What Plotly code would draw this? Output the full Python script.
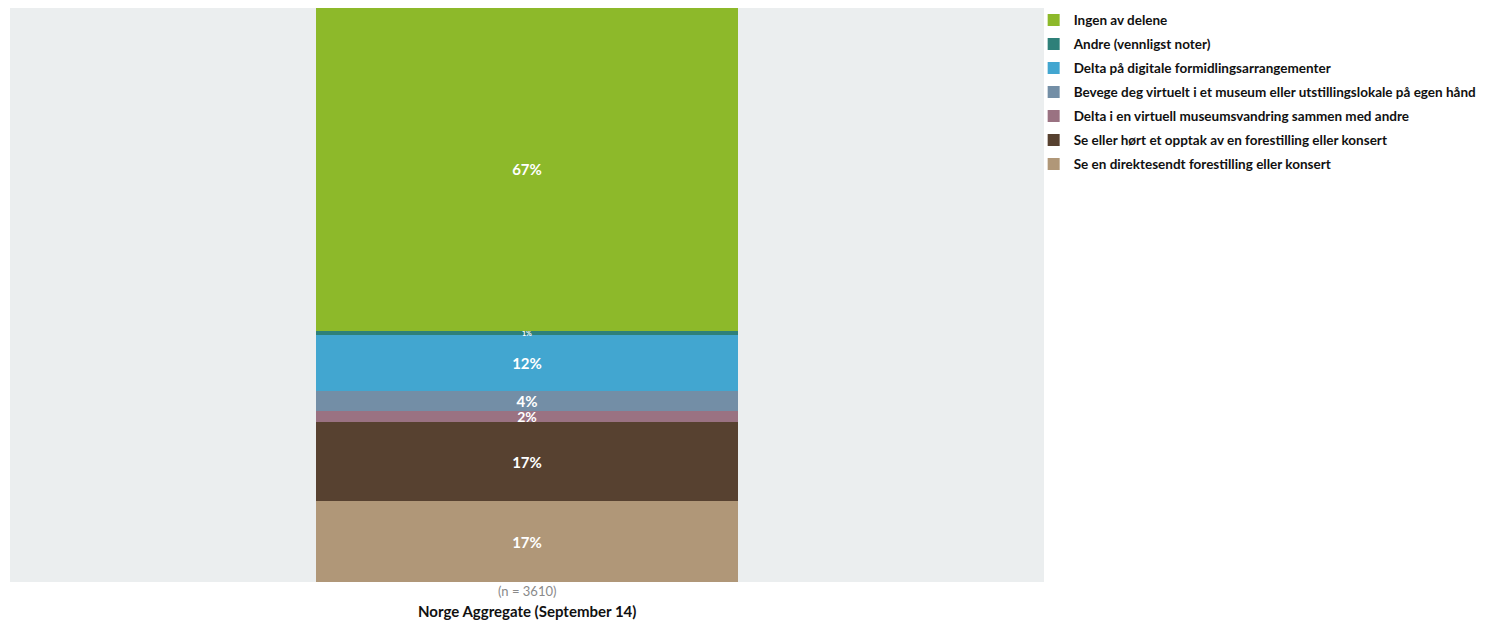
import plotly.graph_objects as go

category = "Norge Aggregate (September 14)"
n_label = "(n = 3610)"

series_names = [
    "Se en direktesendt forestilling eller konsert",
    "Se eller hørt et opptak av en forestilling eller konsert",
    "Delta i en virtuell museumsvandring sammen med andre",
    "Bevege deg virtuelt i et museum eller utstillingslokale på egen hånd",
    "Delta på digitale formidlingsarrangementer",
    "Andre (vennligst noter)",
    "Ingen av delene",
]
series_values = [16.8, 16.6, 2.2, 4.1, 11.8, 0.8, 67.3]
series_colors = ["#B09778", "#574130", "#9A7282", "#738EA6", "#42A6D0", "#2E8079", "#8DB92A"]

FONT = "Source Sans Pro, Lato, Open Sans, sans-serif"

PLOT_H = 574
n = len(series_names)


def label_size(v):
    if v < 1.5:
        return 7
    if v < 3:
        return 14
    return 15


fig = go.Figure()
legend_layouts = {}
for i, (name, val, col) in enumerate(zip(series_names, series_values, series_colors)):
    lname = "legend" if i == 0 else f"legend{i + 1}"
    fig.add_trace(go.Bar(
        x=[category], y=[val], name=name,
        legend=lname,
        marker=dict(color=col, line=dict(width=0)),
        width=0.408,
        text=[f"{val:.0f}%"],
        textposition="inside",
        insidetextanchor="middle",
        textangle=0,
        constraintext="none",
        textfont=dict(color="white", size=label_size(val),
                      family=FONT, weight="bold"),
    ))
    # legend rank from top (top of stack first)
    rank = n - 1 - i
    center_px = 20 + 24 * rank          # distance from page top
    top_px = center_px - 15.4 - 8       # relative to plot top
    legend_layouts[lname] = dict(
        x=0.99, xanchor="left", y=1 - top_px / PLOT_H, yanchor="top",
        font=dict(size=13.5, color="#111111", family=FONT, weight="bold"),
        bgcolor="rgba(0,0,0,0)",
    )

total = sum(series_values)

fig.add_annotation(x=category, xref="x", y=0, yref="paper", yanchor="top",
                   yshift=1, text=n_label, showarrow=False,
                   font=dict(size=13, color="#8a8a8a", family=FONT))
fig.add_annotation(x=category, xref="x", y=0, yref="paper", yanchor="top",
                   yshift=-18, text=f"<b>{category}</b>", showarrow=False,
                   font=dict(size=15, color="#111111", family=FONT))

fig.update_layout(
    width=1478, height=612,
    barmode="stack",
    margin=dict(l=2, r=442, t=0, b=38, autoexpand=False),
    paper_bgcolor="white",
    plot_bgcolor="#EBEEEF",
    font=dict(family=FONT),
    showlegend=True,
    xaxis=dict(showticklabels=False, showgrid=False, zeroline=False,
               range=[-0.5, 0.5]),
    yaxis=dict(showticklabels=False, showgrid=False, zeroline=False,
               range=[0, total]),
    **legend_layouts,
)

fig.write_html("out.html")
